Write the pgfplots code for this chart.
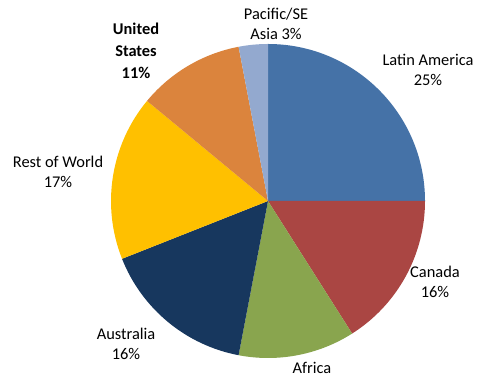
\documentclass[border=0pt]{standalone}
\usepackage{pgfplots}
\pgfplotsset{compat=1.18}
\usepackage{fontspec}
\setmainfont{Carlito}
\definecolor{cLA}{HTML}{4572A7}
\definecolor{cCA}{HTML}{AA4643}
\definecolor{cAF}{HTML}{89A54E}
\definecolor{cAU}{HTML}{17375E}
\definecolor{cRW}{HTML}{FFC000}
\definecolor{cUS}{HTML}{DB843D}
\definecolor{cPA}{HTML}{93A9CF}
% shares (percent): Latin America 25, Canada 16, Africa 12, Australia 16,
% Rest of World 17, United States 11, Pacific/SE Asia 3
\tikzset{lbl/.style={font=\fontsize{12.3}{15}\selectfont,align=center,text=black,inner sep=0pt}}
\begin{document}
\begin{tikzpicture}
\begin{axis}[x=0.75pt,y=0.75pt,xmin=0,xmax=491,ymin=0,ymax=381,
  hide axis,clip=false]
\path (axis cs:0,0) rectangle (axis cs:491,381);
\def\R{117.75pt}
% angles: start 90, clockwise by value*3.6
\fill[cLA] (axis cs:268,180) -- ++(90:\R) arc[start angle=90,end angle=0,radius=\R] -- cycle;
\fill[cCA] (axis cs:268,180) -- ++(0:\R) arc[start angle=0,end angle=-57.6,radius=\R] -- cycle;
\fill[cAF] (axis cs:268,180) -- ++(-57.6:\R) arc[start angle=-57.6,end angle=-100.8,radius=\R] -- cycle;
\fill[cAU] (axis cs:268,180) -- ++(-100.8:\R) arc[start angle=-100.8,end angle=-158.4,radius=\R] -- cycle;
\fill[cRW] (axis cs:268,180) -- ++(-158.4:\R) arc[start angle=-158.4,end angle=-219.6,radius=\R] -- cycle;
\fill[cUS] (axis cs:268,180) -- ++(-219.6:\R) arc[start angle=-219.6,end angle=-259.2,radius=\R] -- cycle;
\fill[cPA] (axis cs:268,180) -- ++(-259.2:\R) arc[start angle=-259.2,end angle=-270,radius=\R] -- cycle;
\node[lbl] at (axis cs:428,311) {Latin America\\25\%};
\node[lbl] at (axis cs:435,99) {Canada\\16\%};
\node[lbl] at (axis cs:312,13) {Africa};
\node[lbl] at (axis cs:126,37) {Australia\\16\%};
\node[lbl] at (axis cs:58,209) {Rest of World\\17\%};
\node[lbl,font=\fontsize{12.3}{16.5}\selectfont\bfseries] at (axis cs:136,330) {United\\States\\11\%};
\node[lbl] at (axis cs:276,357) {Pacific/SE\\Asia 3\%};
\end{axis}
\end{tikzpicture}
\end{document}
